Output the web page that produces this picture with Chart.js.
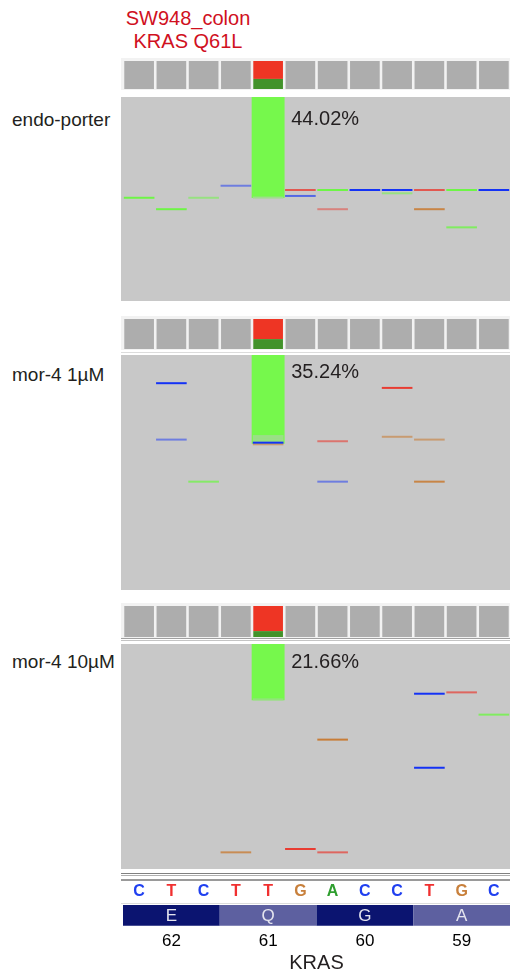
<!DOCTYPE html>
<html>
<head>
<meta charset="utf-8">
<script src="https://cdn.jsdelivr.net/npm/chart.js@4.4.1/dist/chart.umd.min.js"></script>
<style>
  body { margin: 0; width: 510px; height: 976px; position: relative; overflow: hidden; background: #fff;
         font-family: "Liberation Sans", Arial, sans-serif; }
  canvas, .txt, .rule { position: absolute; }
  .txt { white-space: nowrap; }
  .rule { left: 121px; width: 389px; height: 1px; }
</style>
</head>
<body>
<div class="txt" style="left:88px;top:7px;width:200px;text-align:center;color:#d0101e;font-size:20px;line-height:23px">SW948_colon<br>KRAS Q61L</div>

<canvas id="cov0" width="389" height="32" style="left:121px;top:58px"></canvas>
<canvas id="reads0" width="389" height="204" style="left:121px;top:97px"></canvas>
<canvas id="cov1" width="389" height="34" style="left:121px;top:316px"></canvas>
<div class="rule" style="top:352px;background:#dcdcdc"></div>
<canvas id="reads1" width="389" height="235" style="left:121px;top:355px"></canvas>
<canvas id="cov2" width="389" height="35" style="left:121px;top:603px"></canvas>
<div class="rule" style="top:638px;background:#a0a0a0"></div>
<div class="rule" style="top:640px;background:#c4c4c4"></div>
<canvas id="reads2" width="389" height="225" style="left:121px;top:644px"></canvas>
<div class="rule" style="top:873px;background:#808080"></div>
<div class="rule" style="top:875px;background:#b0b0b0"></div>
<div class="rule" style="top:879px;height:2px;background:#9a9a9a"></div>
<div class="rule" style="top:903px;background:#dcdcdc"></div>
<canvas id="genes" width="389" height="106" style="left:121px;top:870px"></canvas>

<script>
// reference bases shown under the tracks, one per column
const refSeq = ['C', 'T', 'C', 'T', 'T', 'G', 'A', 'C', 'C', 'T', 'G', 'C'];
const codons = ['E', 'Q', 'G', 'A'];
const codonNumbers = [62, 61, 60, 59];
const samples = ['endo-porter', 'mor-4 1µM', 'mor-4 10µM'];

// column of the Q61L change
const mutCol = 4;
const altPct = ['44.02%', '35.24%', '21.66%'];
// how far down the read track the alt bar goes (% of track depth)
const altDepth = [49.4, 37.6, 24.9];
// alt (A) share of the coverage box at mutCol
const covAlt = [0.36, 0.33, 0.19];

// mismatch marks: [column, depth %, base, strength]
const marks0 = [
    [0, 49.4, 'A', 1], [1, 55.0, 'A', 1], [2, 49.4, 'A', 0.55], [3, 43.5, 'C', 0.5],
    [4, 49.3, 'A', 0.45], [5, 45.6, 'T', 0.8], [5, 48.5, 'C', 0.65], [6, 45.6, 'A', 1],
    [6, 55.0, 'T', 0.5], [7, 45.6, 'C', 1], [8, 45.6, 'C', 1], [8, 47.2, 'A', 0.55],
    [9, 45.6, 'T', 0.8], [9, 55.0, 'G', 0.9], [10, 45.6, 'A', 1], [10, 63.9, 'A', 0.8],
    [11, 45.6, 'C', 1]
];
const marks1 = [
    [1, 12.0, 'C', 1], [1, 36.0, 'C', 0.5], [2, 53.9, 'A', 0.75],
    [4, 34.5, 'A', 0.5], [4, 35.3, 'A', 0.5], [4, 36.1, 'A', 0.5], [4, 36.9, 'A', 0.5],
    [4, 37.3, 'C', 1], [4, 38.0, 'G', 0.6], [6, 36.7, 'T', 0.6], [6, 53.9, 'C', 0.5],
    [8, 14.0, 'T', 1], [8, 34.8, 'G', 0.6], [9, 36.0, 'G', 0.6], [9, 53.9, 'G', 0.9]
];
const marks2 = [
    [3, 92.6, 'G', 0.8], [4, 24.6, 'A', 0.6], [5, 91.1, 'T', 1], [6, 42.5, 'G', 1],
    [6, 92.6, 'T', 0.7], [9, 22.1, 'C', 1], [9, 55.0, 'C', 1], [10, 21.5, 'T', 0.7],
    [11, 31.4, 'A', 0.8]
];
const panelMarks = [marks0, marks1, marks2];

// layout bits
const labelTops = [110, 365, 652];
const pctDy = [22, 17, 18];
const baseRgb = { A: [110, 245, 70], C: [20, 50, 245], G: [200, 125, 55], T: [232, 60, 50] };
const readGray = [200, 200, 200];
const seqColor = { A: '#2f9e2f', C: '#2040f0', G: '#c8803c', T: '#f03030' };
const FONT = '"Liberation Sans", Arial, sans-serif';

Chart.defaults.font.family = FONT;
Chart.defaults.animation = false;
Chart.defaults.responsive = false;
Chart.defaults.plugins.legend.display = false;
Chart.defaults.plugins.tooltip.enabled = false;

function shade(base, k) {
    const c = baseRgb[base].map((v, i) => Math.round(v * k + readGray[i] * (1 - k)));
    return 'rgb(' + c.join(',') + ')';
}

function bg(color) {
    return {
        id: 'bg',
        beforeDraw(chart) {
            const c = chart.ctx;
            c.save();
            c.fillStyle = color;
            c.fillRect(0, 0, chart.width, chart.height);
            c.restore();
        }
    };
}

samples.forEach((name, i) => {
    const d = document.createElement('div');
    d.className = 'txt';
    d.textContent = name;
    d.style.cssText = 'left:12px;top:' + labelTops[i] + 'px;font-size:19px;line-height:20px;color:#231f20';
    document.body.appendChild(d);
});

function coverage(k) {
    new Chart(document.getElementById('cov' + k), {
        type: 'bar',
        data: {
            labels: refSeq,
            datasets: [
                { label: 'A', data: refSeq.map((b, i) => i === mutCol ? covAlt[k] : 0), backgroundColor: '#42922a' },
                { label: 'T', data: refSeq.map((b, i) => i === mutCol ? 1 - covAlt[k] : 0), backgroundColor: '#ee3524' },
                { label: 'ref', data: refSeq.map((b, i) => i === mutCol ? 0 : 1), backgroundColor: '#adadad' }
            ]
        },
        options: {
            layout: { padding: { left: 2, top: 3, bottom: 1 } },
            datasets: { bar: { barPercentage: 0.92, categoryPercentage: 1 } },
            scales: {
                x: { display: false, stacked: true },
                y: { display: false, stacked: true, min: 0, max: 1 }
            }
        },
        plugins: [bg('#f2f2f2')]
    });
}

function reads(k) {
    const canvas = document.getElementById('reads' + k);
    // half a mark's thickness in depth units, so each mark is 2px tall
    const half = 100 / canvas.height;
    const marks = panelMarks[k].slice().sort((p, q) => q[3] - p[3]);
    const markSets = marks.map(m => ({
        label: m[2],
        data: refSeq.map((b, i) => i === m[0] ? [m[1] - half, m[1] + half] : null),
        backgroundColor: shade(m[2], m[3]),
        barPercentage: 0.95
    }));
    const altBar = {
        label: 'alt',
        data: refSeq.map((b, i) => i === mutCol ? [0, altDepth[k]] : null),
        backgroundColor: '#76f84c',
        barPercentage: 1
    };
    new Chart(canvas, {
        type: 'bar',
        data: { labels: refSeq, datasets: [...markSets, altBar] },
        options: {
            layout: { padding: { left: 2 } },
            datasets: { bar: { grouped: false, categoryPercentage: 1 } },
            scales: {
                x: { display: false },
                y: { display: false, reverse: true, min: 0, max: 100 }
            }
        },
        plugins: [bg('#c8c8c8'), {
            id: 'pct',
            afterDatasetsDraw(chart) {
                const c = chart.ctx, x = chart.scales.x;
                const right = x.getPixelForValue(mutCol) + (x.getPixelForValue(1) - x.getPixelForValue(0)) / 2;
                c.save();
                c.font = '20px ' + FONT;
                c.fillStyle = '#231f20';
                c.textBaseline = 'middle';
                c.fillText(altPct[k], right + 7, chart.chartArea.top + pctDy[k]);
                c.restore();
            }
        }]
    });
}

for (let k = 0; k < 3; k++) {
    coverage(k);
    reads(k);
}

new Chart(document.getElementById('genes'), {
    type: 'bar',
    data: {
        labels: ['Sequence', 'Protein'],
        datasets: [{
            data: codons.map((c, i) => ({ x: [i * 3, i * 3 + 3], y: 'Protein' })),
            backgroundColor: codons.map((c, i) => i % 2 ? '#5d60a0' : '#0b1470'),
            barPercentage: 0.85,
            categoryPercentage: 1
        }]
    },
    options: {
        indexAxis: 'y',
        layout: { padding: { left: 2, top: 9 } },
        scales: {
            y: { display: false },
            x: {
                type: 'linear', min: 0, max: 12, position: 'bottom',
                grid: { display: false, drawTicks: false },
                border: { display: false },
                afterBuildTicks: s => { s.ticks = codonNumbers.map((n, i) => ({ value: i * 3 + 1.5 })); },
                ticks: {
                    padding: 5, color: '#000', maxRotation: 0, autoSkip: false,
                    font: { size: 17, lineHeight: 1 },
                    callback: (v, i) => codonNumbers[i]
                },
                title: {
                    display: true, text: 'KRAS', color: '#231f20',
                    font: { size: 20, lineHeight: 1 },
                    padding: { top: 0, bottom: 3 }
                }
            }
        }
    },
    plugins: [{
        id: 'letters',
        afterDatasetsDraw(chart) {
            const c = chart.ctx, x = chart.scales.x, y = chart.scales.y;
            c.save();
            c.textAlign = 'center';
            c.textBaseline = 'middle';
            c.font = 'bold 16px ' + FONT;
            refSeq.forEach((b, i) => {
                c.fillStyle = seqColor[b];
                c.fillText(b, x.getPixelForValue(i + 0.5), y.getPixelForValue(0));
            });
            c.font = '17px ' + FONT;
            c.fillStyle = '#e4e4ee';
            codons.forEach((a, i) => {
                c.fillText(a, x.getPixelForValue(i * 3 + 1.5), y.getPixelForValue(1) + 1);
            });
            c.restore();
        }
    }]
});
</script>
</body>
</html>
